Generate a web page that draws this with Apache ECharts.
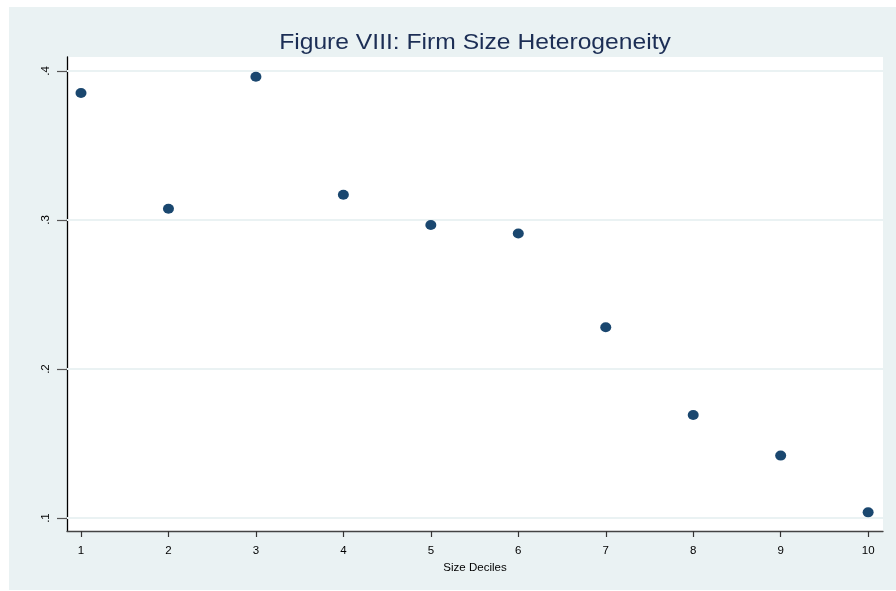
<!DOCTYPE html>
<html>
<head>
<meta charset="utf-8">
<script src="https://cdn.jsdelivr.net/npm/echarts@6/dist/echarts.min.js"></script>
<style>
html,body{margin:0;padding:0;background:#ffffff;}
#c{width:896px;height:591px;}
</style>
</head>
<body>
<div id="c"></div>
<script>
const deciles = [1, 2, 3, 4, 5, 6, 7, 8, 9, 10];
const heterogeneity = [0.3852, 0.3076, 0.3962, 0.3170, 0.2966, 0.2910, 0.2280, 0.1692, 0.1419, 0.1038];
const yTicks = [0.1, 0.2, 0.3, 0.4];
const xTicks = [1, 2, 3, 4, 5, 6, 7, 8, 9, 10];
const titleText = 'Figure VIII: Firm Size Heterogeneity';

const chart = echarts.init(document.getElementById('c'), null, {renderer: 'canvas'});
const points = deciles.map((d, i) => [d, heterogeneity[i]]);
const fmtY = v => String(Math.round(v * 10) / 10).replace(/^0/, '');
const FONT = 'Liberation Sans, Arial, Helvetica, sans-serif';

chart.setOption({
  backgroundColor: '#ffffff',
  animation: false,
  graphic: [{
    type: 'rect', z: -10, silent: true,
    shape: {x: 9, y: 7, width: 887, height: 583},
    style: {fill: '#eaf2f3'}
  }, {
    type: 'text', z: 10, silent: true,
    x: 475, y: 43, scaleX: 1.12, scaleY: 1,
    style: {
      text: titleText, fill: '#1c2e55',
      font: '22px ' + FONT,
      align: 'center', verticalAlign: 'middle'
    }
  }],
  grid: {
    left: 67, top: 57, right: 13, bottom: 60,
    show: true, backgroundColor: '#ffffff', borderWidth: 0
  },
  xAxis: {
    type: 'value', min: 0.84, max: 10.17,
    name: 'Size Deciles', nameLocation: 'middle', nameGap: 26,
    nameTextStyle: {fontFamily: FONT, fontSize: 11.5, color: '#000'},
    axisLine: {show: true, onZero: false, lineStyle: {color: '#444', width: 1.3}},
    axisTick: {show: true, length: 6, customValues: xTicks, lineStyle: {color: '#333', width: 1.2}},
    axisLabel: {customValues: xTicks, margin: 14, fontFamily: FONT, fontSize: 11.5, color: '#000'},
    splitLine: {show: false}
  },
  yAxis: {
    type: 'value', min: 0.0913, max: 0.4094,
    axisLine: {show: true, onZero: false, lineStyle: {color: '#000', width: 1.3}},
    axisTick: {show: true, length: 10, customValues: yTicks, lineStyle: {color: '#555', width: 1.2}},
    axisLabel: {customValues: yTicks, rotate: 90, margin: 15, formatter: fmtY,
      fontFamily: FONT, fontSize: 11.5, color: '#000'},
    splitLine: {show: false}
  },
  series: [{
    type: 'scatter',
    data: points,
    symbol: 'circle',
    symbolSize: [11, 10],
    itemStyle: {color: '#1a476f', opacity: 1},
    markLine: {
      silent: true, symbol: 'none', label: {show: false},
      lineStyle: {color: '#eaf2f3', width: 2, type: 'solid'},
      z: 1,
      data: yTicks.map(v => ({yAxis: v}))
    },
    z: 5
  }]
});
</script>
</body>
</html>
